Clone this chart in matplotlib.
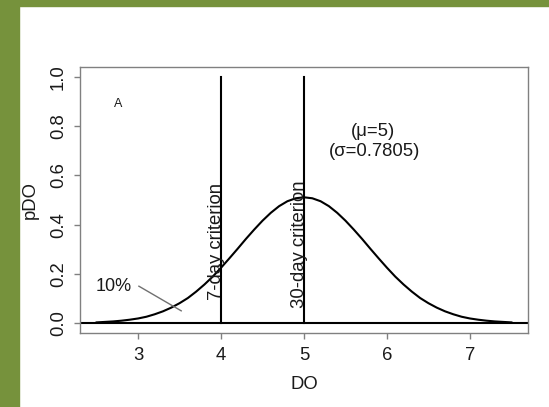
import matplotlib.pyplot as plt
from matplotlib.patches import Rectangle

plt.rcParams['font.family'] = ['Liberation Sans', 'DejaVu Sans']

# DO values and the density (mu=5, sigma=0.7805)
do_x = [2.5, 2.6, 2.7, 2.8, 2.9, 3.0, 3.1, 3.2, 3.3, 3.4, 3.5, 3.6, 3.7, 3.8, 3.9,
        4.0, 4.1, 4.2, 4.3, 4.4, 4.5, 4.6, 4.7, 4.8, 4.9, 5.0, 5.1, 5.2, 5.3, 5.4,
        5.5, 5.6, 5.7, 5.8, 5.9, 6.0, 6.1, 6.2, 6.3, 6.4, 6.5, 6.6, 6.7, 6.8, 6.9,
        7.0, 7.1, 7.2, 7.3, 7.4, 7.5]
pdo = [0.003, 0.005, 0.007, 0.010, 0.014, 0.019, 0.026, 0.036, 0.048, 0.063, 0.081,
       0.102, 0.128, 0.157, 0.189, 0.225, 0.263, 0.302, 0.342, 0.380, 0.416, 0.448,
       0.475, 0.495, 0.507, 0.511, 0.507, 0.495, 0.475, 0.448, 0.416, 0.380, 0.342,
       0.302, 0.263, 0.225, 0.189, 0.157, 0.128, 0.102, 0.081, 0.063, 0.048, 0.036,
       0.026, 0.019, 0.014, 0.010, 0.007, 0.005, 0.003]

criteria_x = [4, 5]
criteria_labels = ["7-day criterion", "30-day criterion"]
x_ticks = [3, 4, 5, 6, 7]
y_ticks = [0.0, 0.2, 0.4, 0.6, 0.8, 1.0]

fig = plt.figure(figsize=(5.49, 4.07), dpi=100)
# olive frame on the left and top
green = '#76923c'
fig.patches.append(Rectangle((0, 0), 19 / 549, 1, transform=fig.transFigure, color=green, zorder=0))
fig.patches.append(Rectangle((0, 1 - 6 / 407), 1, 6 / 407, transform=fig.transFigure, color=green, zorder=0))

ax = fig.add_axes([80 / 549, 74 / 407, 448 / 549, 266 / 407])

ax.plot(do_x, pdo, color='black', lw=1.5)
ax.axhline(0, color='black', lw=1.5)
for cx in criteria_x:
    ax.plot([cx, cx], [0, 1], color='black', lw=1.5)

txt = '#1a1a1a'
ax.text(3.94, 0.33, criteria_labels[0], rotation=90, ha='center', va='center', fontsize=13.3, color=txt)
ax.text(4.94, 0.32, criteria_labels[1], rotation=90, ha='center', va='center', fontsize=13.3, color=txt)

ax.text(5.83, 0.78, "(\u03bc=5)", ha='center', va='center', fontsize=13.3, color=txt)
ax.text(5.85, 0.695, "(\u03c3=0.7805)", ha='center', va='center', fontsize=13.3, color=txt)
ax.text(2.76, 0.89, "A", ha='center', va='center', fontsize=9, color=txt)
ax.text(2.71, 0.15, "10%", ha='center', va='center', fontsize=13, color=txt)
ax.plot([3.01, 3.52], [0.15, 0.05], color='#707070', lw=1)

ax.set_xlim(2.3, 7.7)
ax.set_ylim(-0.04, 1.04)
ax.set_xticks(x_ticks)
ax.set_yticks(y_ticks)
ax.set_yticklabels([f"{v:.1f}" for v in y_ticks], rotation=90, va='center')

for s in ax.spines.values():
    s.set_color('#808080')
    s.set_linewidth(1)
ax.tick_params(colors='#808080', labelcolor=txt, length=4.3, width=1, labelsize=13.3)
ax.tick_params(axis='x', pad=5.5)
ax.tick_params(axis='y', pad=5)

ax.set_xlabel("DO", fontsize=13.3, color=txt, labelpad=9)
ax.set_ylabel("pDO", fontsize=13.3, color=txt, labelpad=8)

plt.savefig("out.png", dpi=100)
